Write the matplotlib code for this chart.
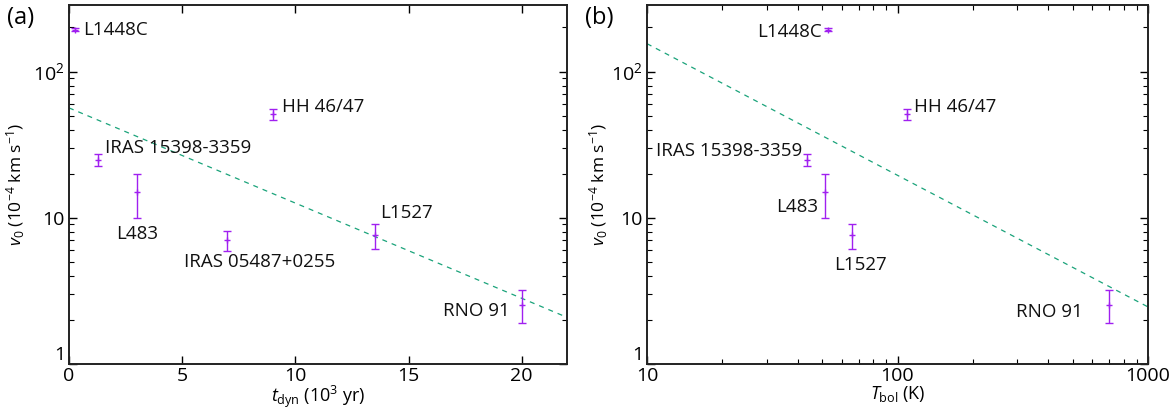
import matplotlib
matplotlib.use("Agg")
import matplotlib.pyplot as plt
import numpy as np
from matplotlib.ticker import FixedLocator, FixedFormatter, LogLocator, NullFormatter, NullLocator

plt.rcParams['font.family'] = ['Open Sans', 'DejaVu Sans']
plt.rcParams['mathtext.fontset'] = 'custom'
plt.rcParams['mathtext.rm'] = 'Open Sans'
plt.rcParams['mathtext.it'] = 'Open Sans:italic'
plt.rcParams['mathtext.bf'] = 'Open Sans:bold'

# ---------------- data ----------------
names_a = ["L1448C", "IRAS 15398-3359", "L483", "HH 46/47", "L1527", "RNO 91", "IRAS 05487+0255"]
tdyn = [0.25, 1.3, 3.0, 9.0, 13.5, 20.0, 7.0]          # 10^3 yr
v0_a = [193, 25, 15, 51, 7.6, 2.55, 7.0]               # 10^-4 km/s
err_a = [4, 2.3, 5, 4.5, 1.5, 0.65, 1.1]

names_b = ["L1448C", "IRAS 15398-3359", "L483", "HH 46/47", "L1527", "RNO 91"]
tbol = [53, 43.5, 51.5, 109, 66, 700]                 # K
v0_b = [193, 25, 15, 51, 7.6, 2.55]
err_b = [4, 2.3, 5, 4.5, 1.5, 0.65]

# fit lines: (a) v = A * 10^(s * t) ; (b) v = B * (T/10)^p
fit_a_amp, fit_a_slope = 56.4, -0.0651
fit_b_amp, fit_b_pow = 155.0, -0.90

# label offsets in pixels (dx, dy, ha)
off_a = {"L1448C": (8, 0, "left"), "IRAS 15398-3359": (7, 12, "left"), "L483": (0, -42, "center"),
         "HH 46/47": (9, 7, "left"), "L1527": (6, 22, "left"), "RNO 91": (-12, -6, "right"),
         "IRAS 05487+0255": (32, -22, "center")}
off_b = {"L1448C": (-7, -2, "right"), "IRAS 15398-3359": (-5, 9, "right"), "L483": (-7, -15, "right"),
         "HH 46/47": (7, 7, "left"), "L1527": (8, -30, "center"), "RNO 91": (-26, -7, "right")}

purple = "#a020f0"
green = "#1aa37a"
FS = 14
FS_ANN = 13.5

fig = plt.figure(figsize=(11.71, 4.08), dpi=100)
W, H = 1171, 408
axa = fig.add_axes([69 / W, 1 - 364 / H, (567 - 69) / W, (364 - 5) / H])
axb = fig.add_axes([647 / W, 1 - 364 / H, (1148 - 647) / W, (364 - 5) / H])

def style_axis(ax, ylab_x):
    ax.set_yscale('log')
    ax.set_ylim(1, 285)
    ax.yaxis.set_major_locator(FixedLocator([1, 10, 100]))
    ax.yaxis.set_major_formatter(FixedFormatter(["1", "10", "$10^2$"]))
    ax.yaxis.set_minor_locator(LogLocator(base=10, subs=np.arange(2, 10)))
    ax.yaxis.set_minor_formatter(NullFormatter())
    ax.tick_params(which='both', direction='in', top=True, right=True, labelsize=FS)
    ax.tick_params(which='major', length=6, width=1.0)
    ax.tick_params(which='minor', length=3.5, width=0.8)
    ax.tick_params(axis='x', pad=2)
    ax.tick_params(axis='y', pad=3)
    for s in ax.spines.values():
        s.set_linewidth(1.4)
        s.set_color('#222222')
    ax.set_ylabel("$v_0$ (10$^{-4}$ km s$^{-1}$)", fontsize=12.5)
    ax.yaxis.set_label_coords(ylab_x, 0.5)

def fix_one_label(ax):
    fig.canvas.draw()
    for lab in ax.get_yticklabels():
        if lab.get_text() == "1":
            lab.set_verticalalignment('bottom')

def px_to_pt(p):
    return p * 72 / 100.0

# ---- panel (a)
style_axis(axa, -42 / 498)
axa.set_xlim(0, 22)
axa.xaxis.set_major_locator(FixedLocator([0, 5, 10, 15, 20]))
axa.xaxis.set_minor_locator(NullLocator())
tt = np.linspace(0, 22, 200)
axa.plot(tt, fit_a_amp * 10 ** (fit_a_slope * tt), ls=(0, (4, 4)), color=green, lw=0.9)
axa.errorbar(tdyn, v0_a, yerr=err_a, fmt='+', color=purple, ms=5, mew=1.0, elinewidth=1.0,
             capsize=3, capthick=1.0)
for n, x, y in zip(names_a, tdyn, v0_a):
    dx, dy, ha = off_a[n]
    axa.annotate(n, (x, y), xytext=(px_to_pt(dx), px_to_pt(dy)), textcoords='offset points',
                 ha=ha, va='center', fontsize=FS_ANN, color='#111111')
axa.set_xlabel("$t_{\\mathrm{dyn}}$ (10$^3$ yr)", fontsize=13)
axa.xaxis.set_label_coords(0.5, -0.055)
axa.xaxis.label.set_verticalalignment('top')

# ---- panel (b)
style_axis(axb, -37 / 501)
axb.set_xscale('log')
axb.set_xlim(10, 1000)
axb.xaxis.set_major_locator(FixedLocator([10, 100, 1000]))
axb.xaxis.set_major_formatter(FixedFormatter(["10", "100", "1000"]))
axb.xaxis.set_minor_locator(LogLocator(base=10, subs=np.arange(2, 10)))
axb.xaxis.set_minor_formatter(NullFormatter())
TT = np.logspace(1, 3, 200)
axb.plot(TT, fit_b_amp * (TT / 10) ** fit_b_pow, ls=(0, (4, 4)), color=green, lw=0.9)
axb.errorbar(tbol, v0_b, yerr=err_b, fmt='+', color=purple, ms=5, mew=1.0, elinewidth=1.0,
             capsize=3, capthick=1.0)
for n, x, y in zip(names_b, tbol, v0_b):
    dx, dy, ha = off_b[n]
    axb.annotate(n, (x, y), xytext=(px_to_pt(dx), px_to_pt(dy)), textcoords='offset points',
                 ha=ha, va='center', fontsize=FS_ANN, color='#111111')
axb.set_xlabel("$T_{\\mathrm{bol}}$ (K)", fontsize=13)
axb.xaxis.set_label_coords(0.5, -0.055)
axb.xaxis.label.set_verticalalignment('top')

fix_one_label(axa)
fix_one_label(axb)

fig.text(7 / W, 1 - 18 / H, "(a)", fontsize=17, va='center', ha='left')
fig.text(585 / W, 1 - 18 / H, "(b)", fontsize=17, va='center', ha='left')

fig.savefig("out.png", dpi=100)
